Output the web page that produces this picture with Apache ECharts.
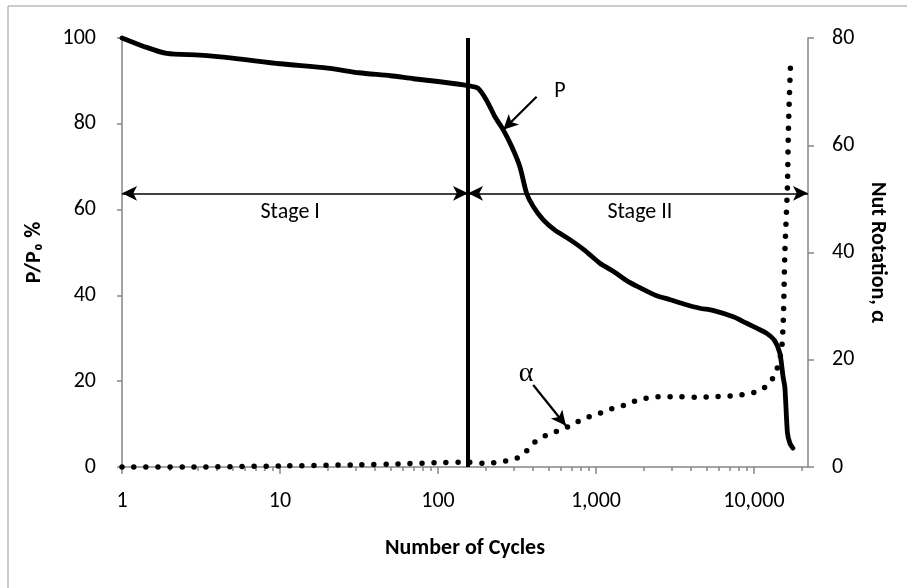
<!DOCTYPE html>
<html><head><meta charset="utf-8">
<script src="https://cdn.jsdelivr.net/npm/echarts@6/dist/echarts.min.js"></script>
<style>html,body{margin:0;padding:0;background:#fff}#c{width:907px;height:588px}</style>
</head><body><div id="c"></div>
<script>
// ---- data ----
const pCycles = [1, 1.36, 1.92, 3.1, 5, 10, 20, 31.6, 50, 70, 103, 155, 179, 203, 229, 259, 293, 330, 364, 401, 464, 550, 684, 850, 1059, 1300, 1600, 1900, 2400, 2950, 3600, 4550, 5500, 7400, 9000, 10500, 12000, 13500, 14600, 15300, 15700, 16300, 16900, 17650];
const pValues = [100, 98.1, 96.4, 96, 95.3, 94, 93, 91.9, 91.2, 90.5, 89.8, 88.9, 88.3, 85.5, 81.7, 78.6, 74.7, 70, 63.8, 60.7, 57.6, 55.2, 53, 50.5, 47.5, 45.5, 43.2, 41.8, 40, 39, 38, 37, 36.5, 35, 33.5, 32.3, 31.2, 29.5, 26.5, 21, 18.6, 8, 5.5, 4.4];
const aCycles = [1, 3, 10, 30, 60, 100, 155, 190, 223, 266, 315, 364, 405, 476, 558, 646, 762, 894, 1050, 1240, 1475, 1722, 2043, 2423, 2869, 3352, 4500, 5500, 6770, 8150, 9660, 11200, 12750, 13900, 14960, 15350, 15700, 16300, 16500, 16740, 17070];
const aValues = [0, 0, 0.2, 0.4, 0.6, 0.8, 0.9, 0.7, 0.8, 1.1, 1.6, 3.0, 4.5, 5.8, 6.6, 7.3, 8.4, 9.3, 10, 10.8, 11.4, 12.2, 12.8, 13.1, 13.1, 13.1, 13, 13.1, 13.2, 13.4, 13.8, 14.4, 15.9, 18, 21.8, 27.4, 40, 52.3, 61.6, 68.4, 75.4];
const xTickLabels = [1, 10, 100, 1000, 10000];
const leftTicks = [0, 20, 40, 60, 80, 100];
const rightTicks = [0, 20, 40, 60, 80];
const xMin = 1, xMax = 22000;
const stageBoundary = 155;
const stageLevel = 63.8;

const FONT = 'Carlito, Calibri, Lato, sans-serif';
const AX = '#868686';
const TICK_FS = 22, TITLE_FS = 22;
const minorTicks = [];
for (let d = 1; d <= 10000; d *= 10) for (let m = 2; m <= 9; m++) { const v = m * d; if (v < xMax) minorTicks.push(v); }

const chart = echarts.init(document.getElementById('c'), null, {renderer: 'canvas'});
const option = {
  animation: false,
  backgroundColor: '#fff',
  grid: {left: 122, right: 99, top: 38, bottom: 121, containLabel: false, outerBoundsMode: 'none'},
  xAxis: [{
    type: 'log', logBase: 10, min: xMin, max: xMax,
    name: 'Number of Cycles', nameLocation: 'middle', nameGap: 70,
    nameTextStyle: {fontFamily: FONT, fontSize: TITLE_FS, fontWeight: 'bold', color: '#000'},
    axisLine: {show: true, lineStyle: {color: AX, width: 1.5}},
    axisTick: {show: true, inside: false, length: 7, lineStyle: {color: AX, width: 1.5}, customValues: xTickLabels},
    axisLabel: {show: true, margin: 23, fontFamily: FONT, fontSize: TICK_FS, color: '#000', customValues: xTickLabels,
      formatter: v => Number(v).toLocaleString('en-US')},
    splitLine: {show: false}, minorTick: {show: false}, minorSplitLine: {show: false}
  }, {
    type: 'log', logBase: 10, min: xMin, max: xMax, position: 'bottom', gridIndex: 0,
    axisLine: {show: false},
    axisTick: {show: true, inside: false, length: 4, lineStyle: {color: AX, width: 1.5}, customValues: minorTicks},
    axisLabel: {show: false}, splitLine: {show: false}
  }],
  yAxis: [{
    type: 'value', min: 0, max: 100, interval: 20, position: 'left',
    name: 'P/P\u2080 %', nameLocation: 'middle', nameGap: 77, nameRotate: 90,
    nameTextStyle: {fontFamily: FONT, fontSize: TITLE_FS, fontWeight: 'bold', color: '#000'},
    axisLine: {show: true, lineStyle: {color: AX, width: 1.5}},
    axisTick: {show: true, inside: false, length: 5, lineStyle: {color: AX, width: 1.5}, customValues: leftTicks},
    axisLabel: {margin: 26, fontFamily: FONT, fontSize: TICK_FS, color: '#000', customValues: leftTicks},
    splitLine: {show: false}
  }, {
    type: 'value', min: 0, max: 80, interval: 20, position: 'right',
    name: 'Nut Rotation, \u03B1', nameLocation: 'middle', nameGap: 58, nameRotate: -90,
    nameTextStyle: {fontFamily: FONT, fontSize: TITLE_FS, fontWeight: 'bold', color: '#000'},
    axisLine: {show: true, lineStyle: {color: AX, width: 1.5}},
    axisTick: {show: true, inside: false, length: 6, lineStyle: {color: AX, width: 1.5}, customValues: rightTicks},
    axisLabel: {margin: 24, fontFamily: FONT, fontSize: TICK_FS, color: '#000', customValues: rightTicks},
    splitLine: {show: false}
  }],
  series: [{
    name: 'P', type: 'line', xAxisIndex: 0, yAxisIndex: 0,
    data: pCycles.map((c, i) => [c, pValues[i]]),
    showSymbol: false, smooth: 0.25, clip: false,
    lineStyle: {color: '#000', width: 4.8, cap: 'round', join: 'round'},
    markLine: {
      silent: true, animation: false, precision: 6,
      label: {show: false},
      symbolSize: [11, 15],
      data: [
        [{coord: [stageBoundary, 0], symbol: 'none', lineStyle: {color: '#000', width: 4, type: 'solid'}},
         {coord: [stageBoundary, 100], symbol: 'none'}],
        [{coord: [1.001, stageLevel], symbol: 'arrow', lineStyle: {color: '#000', width: 1.6, type: 'solid'}},
         {coord: [stageBoundary, stageLevel], symbol: 'arrow'}],
        [{coord: [stageBoundary, stageLevel], symbol: 'arrow', lineStyle: {color: '#000', width: 1.6, type: 'solid'}},
         {coord: [21990, stageLevel], symbol: 'arrow'}],
        [{coord: [421, 86.3], symbol: 'none', lineStyle: {color: '#000', width: 2.2, type: 'solid'}},
         {coord: [259, 78.6], symbol: 'arrow'}]
      ]
    }
  }, {
    name: 'alpha', type: 'line', xAxisIndex: 0, yAxisIndex: 1,
    data: aCycles.map((c, i) => [c, aValues[i]]),
    showSymbol: false, smooth: 0.2, clip: false,
    lineStyle: {color: '#000', width: 5.5, type: [0, 12], cap: 'round'},
    markLine: {
      silent: true, animation: false, precision: 6,
      label: {show: false},
      symbolSize: [11, 15],
      data: [
        [{coord: [401, 15.3], symbol: 'none', lineStyle: {color: '#000', width: 2.2, type: 'solid'}},
         {coord: [646, 7.7], symbol: 'arrow'}]
      ]
    }
  }]
};
chart.setOption(option);

function px(x, y, yi) { return chart.convertToPixel({xAxisIndex: 0, yAxisIndex: yi || 0}, [x, y]); }
const texts = [
  {t: 'Stage I', p: px(11.6, 59.4, 0), s: 22, f: FONT},
  {t: 'Stage II', p: px(1897, 59.4, 0), s: 22, f: FONT},
  {t: 'P', p: px(592, 87.5, 0), s: 22, f: FONT},
  {t: '\u03B1', p: px(361, 17.5, 1), s: 28, f: '"Liberation Serif", "DejaVu Serif", serif'}
];
chart.setOption({
  graphic: [{
    type: 'rect', silent: true, z: -1,
    shape: {x: 8, y: 6, width: 1000, height: 800},
    style: {fill: 'none', stroke: '#9a9a9a', lineWidth: 1}
  }].concat(texts.map(o => ({
    type: 'text', silent: true, x: o.p[0], y: o.p[1],
    style: {text: o.t, fontFamily: o.f, fontSize: o.s, fill: '#000', align: 'center', verticalAlign: 'middle'}
  })))
});
</script></body></html>
